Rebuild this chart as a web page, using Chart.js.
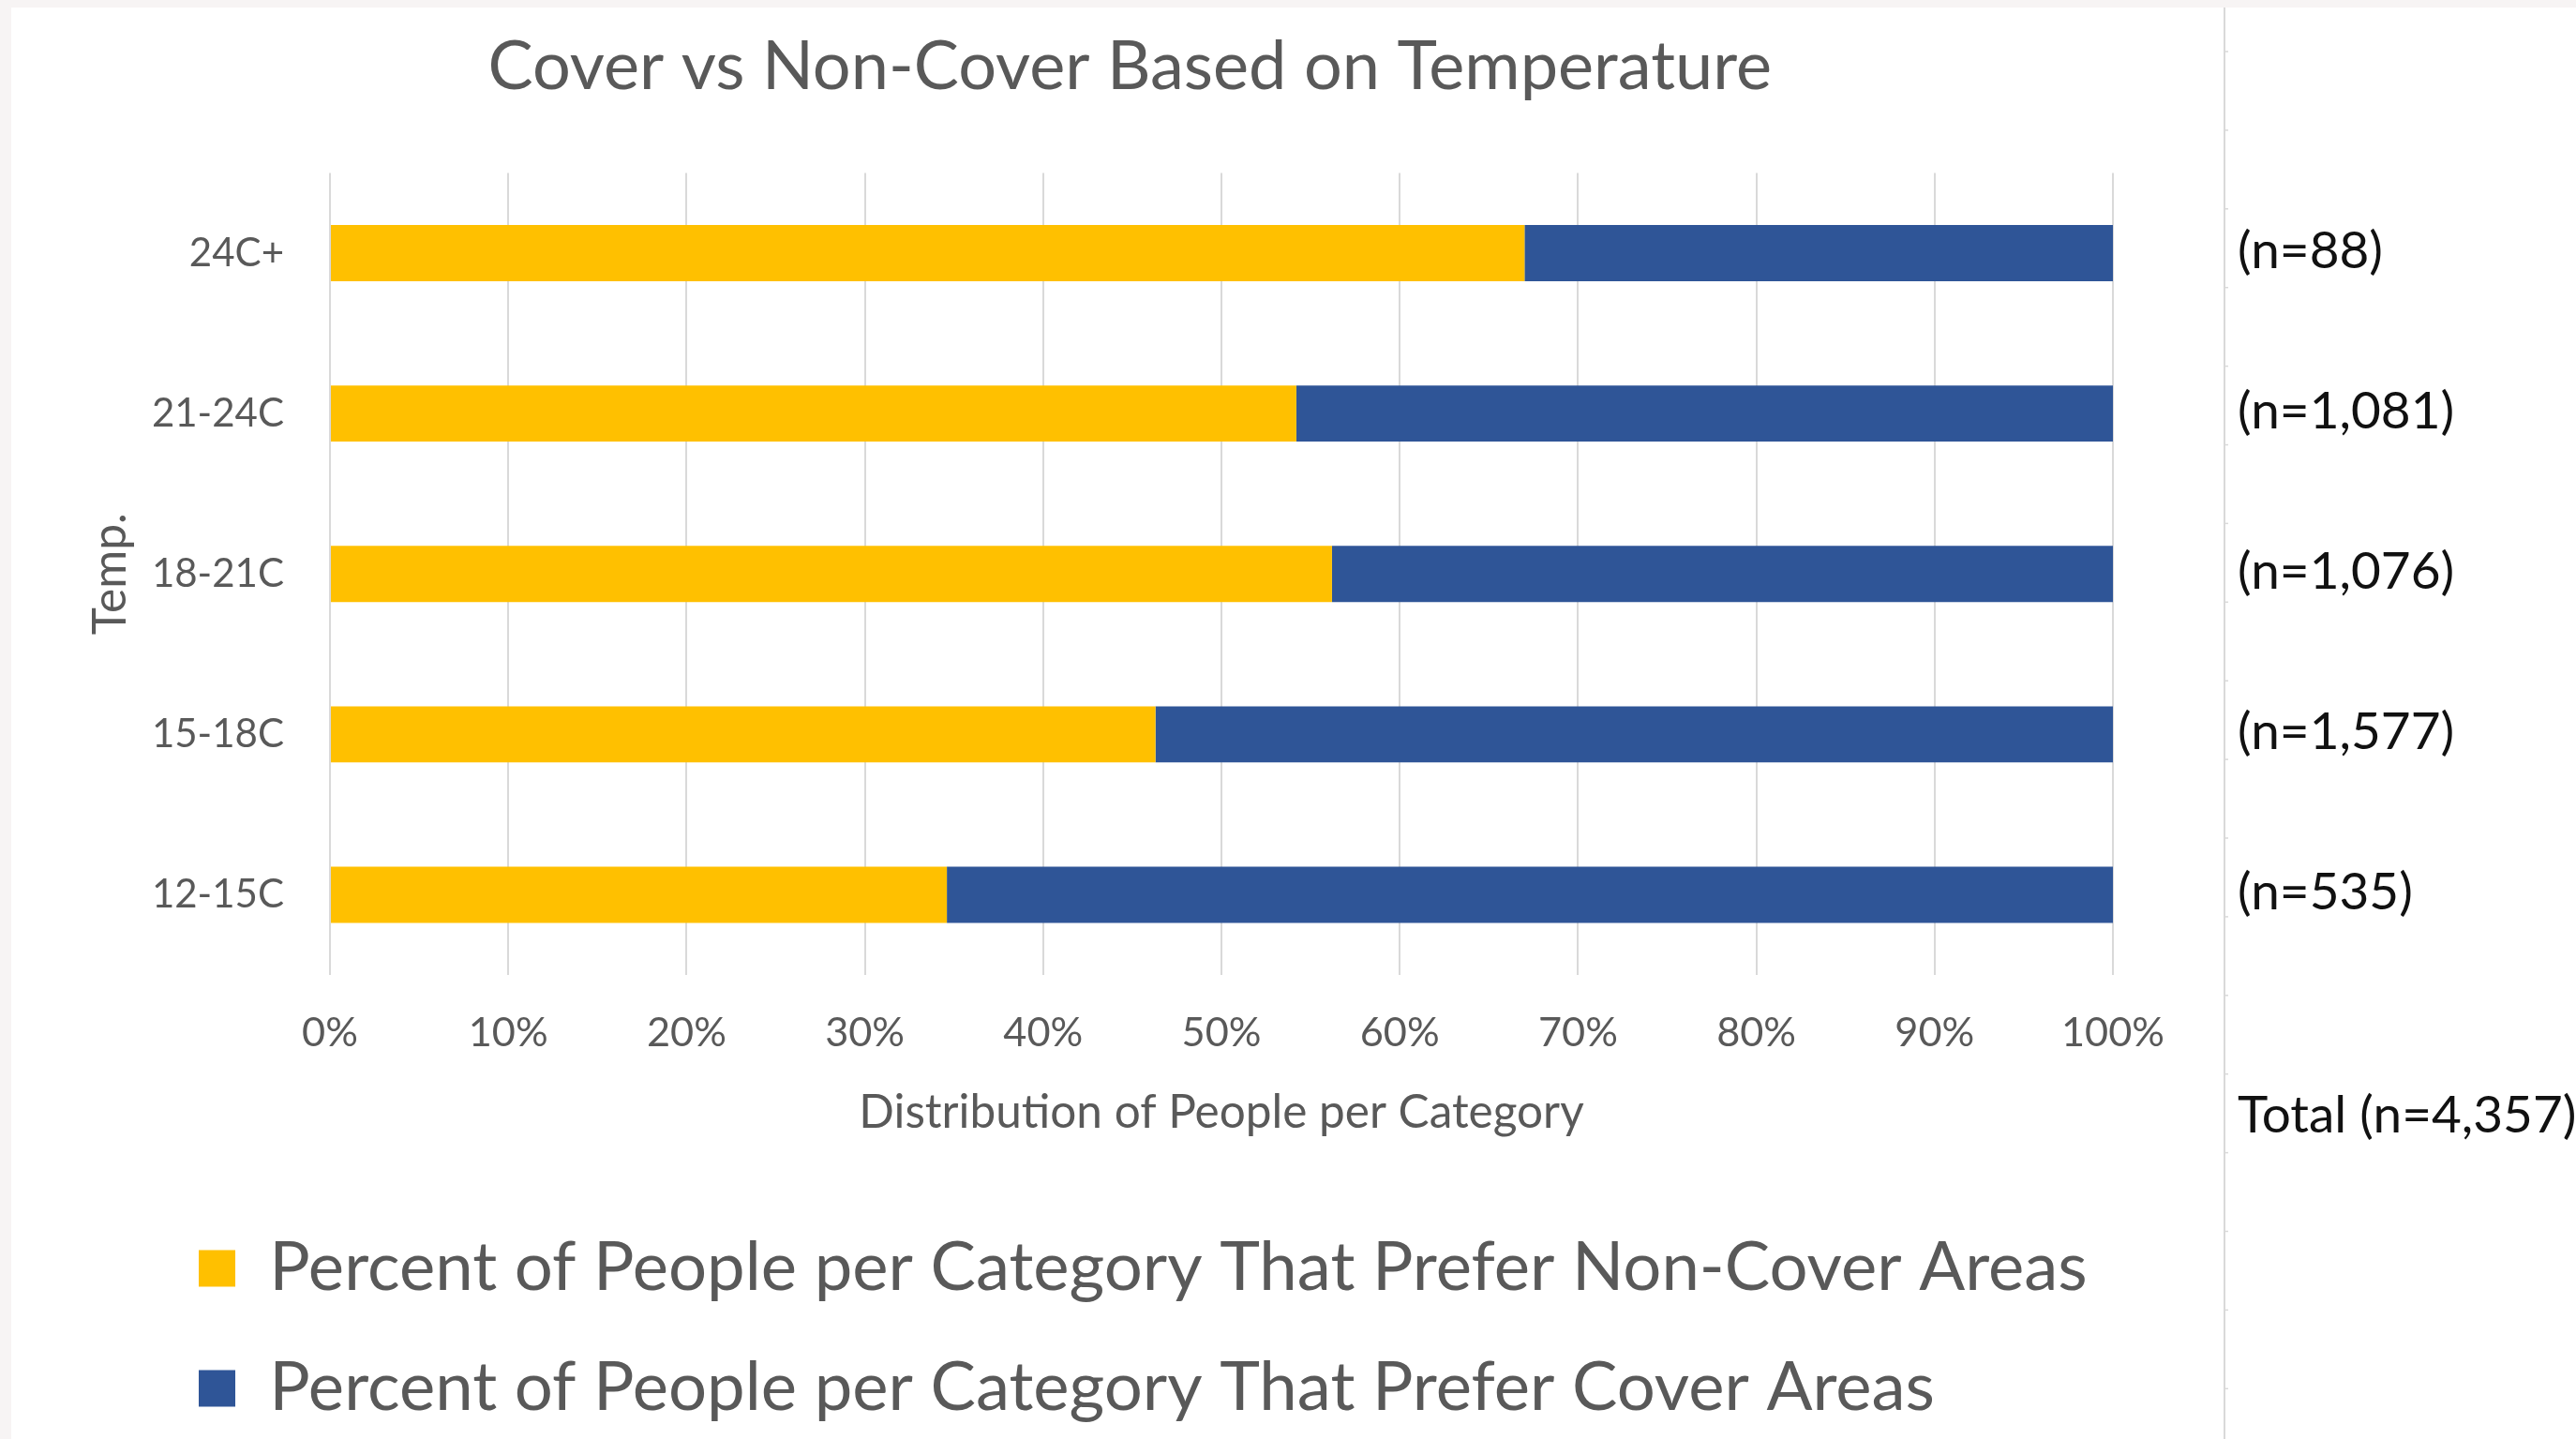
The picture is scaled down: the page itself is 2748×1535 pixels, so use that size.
<!DOCTYPE html>
<html><head><meta charset="utf-8">
<script src="https://cdn.jsdelivr.net/npm/chart.js@4.4.1/dist/chart.umd.min.js"></script>
<style>
html,body{margin:0;padding:0;background:#fff;overflow:hidden}
#wrap{position:relative;width:2748px;height:1535px}
</style></head><body>
<div id="wrap"><canvas id="c"></canvas></div>
<script>
// ---------- data ----------
const chartTitle = 'Cover vs Non-Cover Based on Temperature';
const categories = ['24C+', '21-24C', '18-21C', '15-18C', '12-15C'];
const nonCoverPct = [67.0, 54.2, 56.2, 46.3, 34.6];
const coverPct = [33.0, 45.8, 43.8, 53.7, 65.4];
const seriesNames = ['Percent of People per Category That Prefer Non-Cover Areas',
                     'Percent of People per Category That Prefer Cover Areas'];
const sampleLabels = ['(n=88)', '(n=1,081)', '(n=1,076)', '(n=1,577)', '(n=535)'];
const totalLabel = 'Total (n=4,357)';
const xAxisTitle = 'Distribution of People per Category';
const yAxisTitle = 'Temp.';
const xTickValues = [0, 10, 20, 30, 40, 50, 60, 70, 80, 90, 100];

// ---------- layout ----------
const W = 2748, H = 1535;
const FAMILY = 'Lato';
const GRAY = '#595959';
const AREA_L = 352, AREA_R = 2254, AREA_T = 184.5, AREA_B = 1040;
const TITLE_CY = 72, XTICK_CY = 1102, XTITLE_CY = 1187;
const LEG_ROW1 = 1353, LEG_ROW2 = 1481, LEG_BOX_X = 212, LEG_BOX = 39;
const YTITLE_CX = 118, YTICK_RIGHT = 303;
const NLABEL_X = 2387, DIVIDER_X = 2373, TOTAL_CY = 1190;

const mctx = document.createElement('canvas').getContext('2d');
function fit(text, target) {
  mctx.font = `normal 100px ${FAMILY}`;
  return Math.round(1000 * target / mctx.measureText(text).width) / 10;
}
const fTitle = fit(chartTitle, 1370);
const fXTick = fit('100%', 110);
const fXTitle = fit(xAxisTitle, 774);
const fYTick = fit('21-24C', 141);
const fYTitle = fit(yAxisTitle, 130);
const fLeg = fit(seriesNames[0], 1939);
const fN = fit('(n=535)', 187);

const legItemH = Math.max(fLeg, LEG_BOX);
const legPad = (LEG_ROW2 - LEG_ROW1) - legItemH;
const padLeft = LEG_BOX_X - legPad;
const padRight = W - AREA_R;
const legTop = LEG_ROW1 - legPad - legItemH / 2;
const legH = 2 * (legItemH + legPad) + 10;
const padBottom = H - legTop - legH;

const extras = {
  id: 'extras',
  beforeDraw(chart) {
    const ctx = chart.ctx;
    ctx.save();
    ctx.fillStyle = '#f7f4f4';
    ctx.fillRect(0, 0, W, H);
    ctx.fillStyle = '#ffffff';
    ctx.fillRect(12, 8, W, H);
    ctx.restore();
  },
  afterDraw(chart) {
    const ctx = chart.ctx;
    const y = chart.scales.y;
    ctx.save();
    // divider line with small cell ticks
    ctx.strokeStyle = '#d9d9d9';
    ctx.lineWidth = 2;
    ctx.beginPath();
    ctx.moveTo(DIVIDER_X, 8); ctx.lineTo(DIVIDER_X, H);
    ctx.stroke();
    ctx.lineWidth = 1.5;
    for (let t = 55; t < H; t += 83.9) {
      ctx.beginPath(); ctx.moveTo(DIVIDER_X, t); ctx.lineTo(DIVIDER_X + 4, t); ctx.stroke();
    }
    // n labels
    ctx.fillStyle = '#111111';
    ctx.font = `normal ${fN}px ${FAMILY}`;
    ctx.textAlign = 'left';
    ctx.textBaseline = 'middle';
    sampleLabels.forEach((s, i) => {
      ctx.fillText(s, NLABEL_X, y.getPixelForValue(i) - 2);
    });
    ctx.fillText(totalLabel, NLABEL_X, TOTAL_CY);
    ctx.restore();
  }
};

new Chart(document.getElementById('c'), {
  type: 'bar',
  data: {
    labels: categories,
    datasets: [
      { label: seriesNames[0], data: nonCoverPct, backgroundColor: '#FFC000', borderWidth: 0,
        barPercentage: 0.35, categoryPercentage: 1 },
      { label: seriesNames[1], data: coverPct, backgroundColor: '#2F5597', borderWidth: 0,
        barPercentage: 0.35, categoryPercentage: 1 }
    ]
  },
  options: {
    indexAxis: 'y',
    responsive: true,
    maintainAspectRatio: false,
    animation: false,
    devicePixelRatio: 1,
    layout: { padding: { left: padLeft, right: padRight, top: 0, bottom: padBottom } },
    plugins: {
      title: {
        display: true, text: chartTitle, color: GRAY,
        font: { family: FAMILY, size: fTitle, weight: 'normal', lineHeight: 1.2 },
        padding: { top: TITLE_CY - 0.6 * fTitle, bottom: AREA_T - TITLE_CY - 0.6 * fTitle }
      },
      legend: {
        display: true, position: 'bottom', align: 'start',
        labels: {
          color: GRAY, boxWidth: LEG_BOX, boxHeight: LEG_BOX, padding: legPad,
          font: { family: FAMILY, size: fLeg }
        }
      },
      tooltip: { enabled: false }
    },
    scales: {
      x: {
        stacked: true, min: 0, max: 100,
        afterBuildTicks(s) { s.ticks = xTickValues.map(v => ({ value: v })); },
        afterFit(s) { s.height = legTop - AREA_B; s.paddingLeft = 0; s.paddingRight = 0; },
        grid: { color: '#d9d9d9', lineWidth: 2, drawTicks: false },
        border: { display: false },
        ticks: {
          color: GRAY, padding: XTICK_CY - AREA_B - 0.6 * fXTick,
          font: { family: FAMILY, size: fXTick },
          callback: v => v + '%', maxRotation: 0, autoSkip: false
        },
        title: {
          display: true, text: xAxisTitle, color: GRAY,
          font: { family: FAMILY, size: fXTitle },
          padding: { top: 0, bottom: legTop - XTITLE_CY - 0.6 * fXTitle }
        }
      },
      y: {
        stacked: true,
        afterFit(s) { s.width = AREA_L - padLeft; s.paddingTop = 0; s.paddingBottom = 0; },
        grid: { display: false, drawTicks: false },
        border: { display: false },
        ticks: { color: GRAY, padding: AREA_L - YTICK_RIGHT, font: { family: FAMILY, size: fYTick } },
        title: {
          display: true, text: yAxisTitle, color: GRAY,
          font: { family: FAMILY, size: fYTitle },
          padding: { top: YTITLE_CX - padLeft - 0.6 * fYTitle, bottom: 0 }
        }
      }
    }
  },
  plugins: [extras]
});
</script>
</body></html>
